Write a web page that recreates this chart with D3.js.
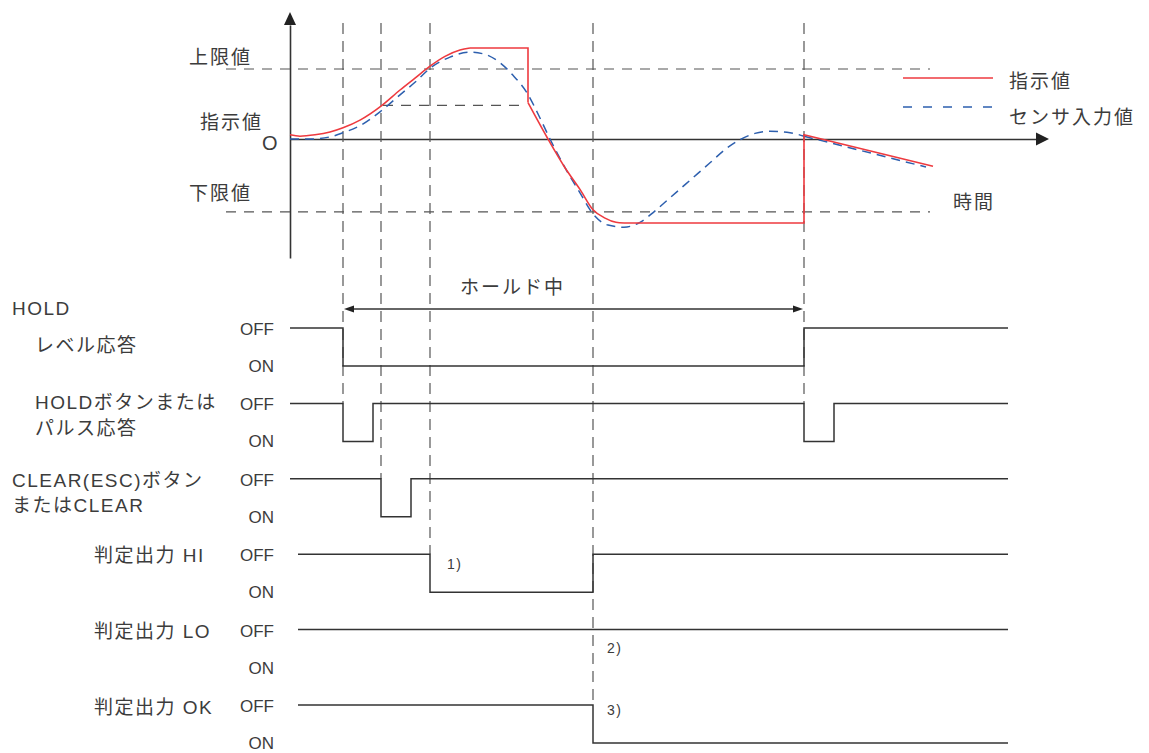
<!DOCTYPE html>
<html><head><meta charset="utf-8">
<script src="https://cdn.jsdelivr.net/npm/d3@7"></script>
<style>
body{margin:0;background:#fff;}
text{font-family:"Liberation Sans","Noto Sans CJK JP",sans-serif;fill:#3c3c3c;}
</style></head><body>
<svg id="c" width="1149" height="753"></svg>
<script>
// ---------- data ----------
// time markers (events): HOLD on, CLEAR, HI judged, OK judged, HOLD off
const timeMarkers = [5.3, 9.1, 14.0, 30.3, 51.4];
const upperLimit = 1.0;
const lowerLimit = -1.04;
const clearLevel = 0.48;           // 指示値 captured at CLEAR
const clearLevelSpan = [9.3, 23.7];
const limitSpan = [-6.4, 64.0];

// 指示値 (indicated value)
const indicatedRise = [[0,0.06],[1,0.04],[2.5,0.06],[4,0.10],[5.3,0.16],[7,0.27],[9.1,0.47],[11,0.70],[12.5,0.87],[14,1.04],[15.5,1.18],[17,1.27],[18,1.30]];
const indicatedPeakHold = [[18,1.30],[23.8,1.30],[23.8,0.52]];
const indicatedFall = [[23.8,0.52],[25.8,0.0],[27.5,-0.41],[29,-0.72],[30.3,-1.01],[31.5,-1.13],[32.6,-1.19],[33.4,-1.20]];
const indicatedValleyHold = [[33.4,-1.20],[51.4,-1.20],[51.4,0.06],[64.3,-0.39]];

// センサ入力値 (sensor input)
const sensorCurve = [[0,0],[2,0],[4,0.03],[5.3,0.09],[7,0.19],[9.1,0.40],[11,0.63],[12.5,0.81],[14,1.01],[16,1.17],[18,1.24],[19.5,1.21],[21,1.09],[22.3,0.91],[23.7,0.66],[25,0.30],[26,0],[27.5,-0.41],[29,-0.77],[30.3,-1.07],[31.8,-1.23],[33.4,-1.26],[35,-1.19],[36.4,-1.04],[38,-0.84],[40,-0.59],[42,-0.34],[43.6,-0.14],[45,-0.01],[46.5,0.08],[48,0.11],[50,0.09],[51.4,0.04]];
const sensorTail = [[51.4,0.04],[63.6,-0.40]];

const legendLabels = ['指示値','センサ入力値'];
const valueLabels = ['上限値','指示値','O','下限値'];
const timeLabel = '時間';
const holdSpanLabel = 'ホールド中';

// timing rows
const rowNames = ['holdLevel','holdButton','clear','hi','lo','ok'];
const rowLabels = [['HOLD','レベル応答'],['HOLDボタンまたは','パルス応答'],['CLEAR(ESC)ボタン','またはCLEAR'],['判定出力 HI'],['判定出力 LO'],['判定出力 OK']];
const stateNames = ['OFF','ON'];
const signalHoldLevel  = [[0,'OFF'],[5.3,'ON'],[51.4,'OFF'],[71.8,'OFF']];
const signalHoldButton = [[0,'OFF'],[5.3,'ON'],[8.3,'OFF'],[51.4,'ON'],[54.4,'OFF'],[71.8,'OFF']];
const signalClear      = [[0,'OFF'],[9.1,'ON'],[12.1,'OFF'],[71.8,'OFF']];
const signalHi         = [[0.8,'OFF'],[14.0,'ON'],[30.3,'OFF'],[71.8,'OFF']];
const signalLo         = [[0.8,'OFF'],[71.8,'OFF']];
const signalOk         = [[0.8,'OFF'],[30.3,'ON'],[71.8,'ON']];
const notes = ['1)','2)','3)'];
const noteRows = ['hi','lo','ok'];
const noteTimes = [14.0, 30.3, 30.3];

// ---------- drawing ----------
const svg = d3.select('#c');
const x = d3.scaleLinear().domain([0,76]).range([290,1050]);
const y = d3.scaleLinear().domain([0,1]).range([139,69]);
const rowY = d3.scalePoint().domain(rowNames).range([328,705]);
const level = d3.scaleOrdinal().domain(stateNames).range([0,38]);
const signals = [signalHoldLevel,signalHoldButton,signalClear,signalHi,signalLo,signalOk];

const INK = '#333', GRID = '#555';

// axes (no ticks) drawn through d3 axes
const xAxisScale = x.copy().domain([0,74.8]).range([x(0), x(74.8)]);
const yAxisScale = y.copy().domain([-1.70,1.63]).range([y(-1.70), y(1.63)]);
svg.append('g').attr('transform',`translate(0,${y(0)})`)
  .call(d3.axisBottom(xAxisScale).tickValues([]).tickSizeOuter(0))
  .call(g=>g.select('.domain').attr('stroke',INK).attr('stroke-width',1.6));
svg.append('g').attr('transform',`translate(${x(0)},0)`)
  .call(d3.axisLeft(yAxisScale).tickValues([]).tickSizeOuter(0))
  .call(g=>g.select('.domain').attr('stroke',INK).attr('stroke-width',1.6));
// arrowheads
svg.append('path').attr('d',`M${x(0)},12 L${x(0)-6},25 L${x(0)+6},25 Z`).attr('fill','#222');
svg.append('path').attr('d',`M1049,${y(0)} L1036,${y(0)-6.5} L1036,${y(0)+6.5} Z`).attr('fill','#222');

// limit dashed lines
const dashed = (sel)=>sel.attr('stroke',GRID).attr('stroke-width',1.2).attr('stroke-dasharray','10,8').attr('fill','none');
[upperLimit, lowerLimit].forEach(v=>{
  svg.append('line').attr('x1',x(limitSpan[0])).attr('x2',x(limitSpan[1]))
    .attr('y1',y(v)).attr('y2',y(v)).call(dashed);
});
svg.append('line').attr('x1',x(clearLevelSpan[0])).attr('x2',x(clearLevelSpan[1]))
  .attr('y1',y(clearLevel)).attr('y2',y(clearLevel)).call(dashed);

// vertical event markers: reach down to lowest row switching at that time
timeMarkers.forEach(t=>{
  let lowest = null;
  signals.forEach((s,i)=>{
    for(let k=1;k<s.length;k++){
      if(Math.abs(s[k][0]-t)<1e-6 && s[k][1]!==s[k-1][1]) lowest = rowNames[i];
    }
  });
  svg.append('line').attr('x1',x(t)).attr('x2',x(t)).attr('y1',23).attr('y2',rowY(lowest))
    .attr('stroke',GRID).attr('stroke-width',1.2).attr('stroke-dasharray','11,7');
});

// curves
const smooth = d3.line().x(d=>x(d[0])).y(d=>y(d[1])).curve(d3.curveMonotoneX);
const straight = d3.line().x(d=>x(d[0])).y(d=>y(d[1]));
const RED = '#ee3a3f', BLUE = '#2d5fae';
svg.append('path').attr('d',smooth(sensorCurve)).attr('fill','none').attr('stroke',BLUE).attr('stroke-width',1.5).attr('stroke-dasharray','9,6');
svg.append('path').attr('d',straight(sensorTail)).attr('fill','none').attr('stroke',BLUE).attr('stroke-width',1.5).attr('stroke-dasharray','9,6');
[[indicatedRise,smooth],[indicatedPeakHold,straight],[indicatedFall,smooth],[indicatedValleyHold,straight]].forEach(([d,f])=>{
  svg.append('path').attr('d',f(d)).attr('fill','none').attr('stroke',RED).attr('stroke-width',1.6);
});

// value labels
const lbl = (t,xx,yy,size,anchor,ls)=>svg.append('text').text(t).attr('x',xx).attr('y',yy)
  .attr('dy','0.35em').attr('font-size',size).attr('text-anchor',anchor||'start')
  .attr('letter-spacing',ls==null?2:ls);
lbl(valueLabels[0],189,y(upperLimit)-12,19);
lbl(valueLabels[1],200,y(0)-17,19);
lbl(valueLabels[2],262,y(0)+4,20,'start',0);
lbl(valueLabels[3],189,y(lowerLimit)-18,19);
lbl(timeLabel,953,y(lowerLimit)-9,19);

// legend
svg.append('line').attr('x1',903).attr('x2',993).attr('y1',78).attr('y2',78).attr('stroke',RED).attr('stroke-width',1.6);
svg.append('line').attr('x1',903).attr('x2',993).attr('y1',107).attr('y2',107).attr('stroke',BLUE).attr('stroke-width',1.5).attr('stroke-dasharray','9,11');
lbl(legendLabels[0],1009,81,19);
lbl(legendLabels[1],1009,117,19);

// hold span arrow
const ha = 309;
svg.append('line').attr('x1',x(timeMarkers[0])+8).attr('x2',x(timeMarkers[4])-8).attr('y1',ha).attr('y2',ha).attr('stroke',INK).attr('stroke-width',1.4);
svg.append('path').attr('d',`M${x(timeMarkers[0])+1},${ha} L${x(timeMarkers[0])+11},${ha-3.5} L${x(timeMarkers[0])+11},${ha+3.5} Z`).attr('fill','#222');
svg.append('path').attr('d',`M${x(timeMarkers[4])-1},${ha} L${x(timeMarkers[4])-11},${ha-3.5} L${x(timeMarkers[4])-11},${ha+3.5} Z`).attr('fill','#222');
lbl(holdSpanLabel,460,ha-22,19,'start');

// signal rows
signals.forEach((s,i)=>{
  const r = rowNames[i];
  const line = d3.line().x(d=>x(d[0])).y(d=>rowY(r)+level(d[1])).curve(d3.curveStepAfter);
  svg.append('path').attr('d',line(s)).attr('fill','none').attr('stroke',INK).attr('stroke-width',1.5);
  stateNames.forEach(st=>{
    lbl(st,274,rowY(r)+level(st)+(st==='OFF'?1:0),17,'end',0);
  });
});
// row labels
const labelLayout = [
  [[12,-20],[35,17]],
  [[35,-1],[35,25]],
  [[12,2],[12,27]],
  [[94,1]],[[94,2]],[[94,2]]
];
rowLabels.forEach((lines,i)=>{
  lines.forEach((t,j)=>{
    const [lx,dy] = labelLayout[i][j];
    lbl(t,lx,rowY(rowNames[i])+dy,19,'start',1.5);
  });
});
// notes
const noteOffset = [[17,10],[14,18],[14,5]];
notes.forEach((n,i)=>{
  lbl(n,x(noteTimes[i])+noteOffset[i][0],rowY(noteRows[i])+noteOffset[i][1],14,'start',1.5);
});
</script>
</body></html>
